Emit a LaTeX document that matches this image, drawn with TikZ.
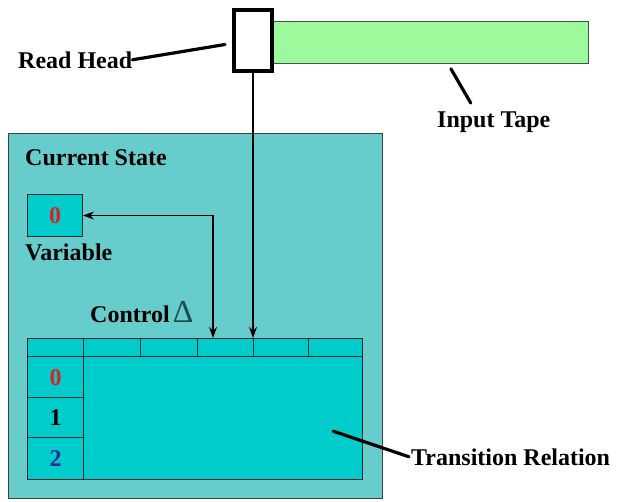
\documentclass[tikz,border=0pt]{standalone}
\usepackage{fontspec}
\setmainfont{Liberation Serif}
\usetikzlibrary{arrows.meta, positioning}
\definecolor{StateTeal}{HTML}{66CCCC}
\definecolor{CellCyan}{HTML}{00CCCC}
\definecolor{TapeGreen}{HTML}{9CFA9C}
\definecolor{ZeroRed}{HTML}{E02020}
\definecolor{TwoBlue}{HTML}{2B2B99}
\definecolor{DeltaTeal}{HTML}{1E4D4D}

\begin{document}
\begin{tikzpicture}[
  x=1pt, y=-1pt,
  font=\fontsize{24}{28}\selectfont\bfseries,
  label/.style={inner sep=0pt, text=black, anchor=base west},
  statebox/.style={draw=black!75, fill=StateTeal, line width=1pt,
                   inner sep=0pt, anchor=north west},
  cell/.style={draw=black!85, fill=CellCyan, line width=1.4pt,
               inner sep=0pt, anchor=north west},
  tape/.style={draw=black!70, fill=TapeGreen, line width=0.8pt,
               inner sep=0pt, anchor=north west},
  headbox/.style={draw=black, fill=white, line width=4pt, inner sep=0pt,
                  minimum width=38pt, minimum height=61pt},
  pointer/.style={line width=3.2pt, line cap=round},
  arr/.style={-{Stealth[length=11pt, width=8pt]}, line width=1.6pt},
  biarr/.style={{Stealth[length=11pt, width=8pt]}-{Stealth[length=11pt, width=8pt]}, line width=1.6pt},
]
\useasboundingbox (0,0) rectangle (632,501);

\node[statebox, minimum width=374pt, minimum height=365pt] (state) at (8,133) {};
\node[tape, minimum width=315pt, minimum height=42pt] (tape) at (273,21) {};
\node[headbox] (head) at (253,40.5) {};

\node[label] (rhlbl) at (18,68)  {Read Head};
\node[label] (tplbl) at (437,127) {Input Tape};
\node[label] (cstate) at (25,165) {Current State};
\node[cell, minimum width=55pt, minimum height=42pt, line width=1pt, text=ZeroRed] (var) at (27,194) {0};
\node[label] (varlbl) at (25,260) {Variable};
\node[label] (ctrl) at (90,322) {Control\kern3pt\textcolor{DeltaTeal}{\fontsize{32}{32}\selectfont\mdseries Δ}};

% transition table
\foreach \xa/\xb [count=\i] in {27/83, 83/140, 140/197, 197/253, 253/308, 308/362}
  \node[cell, minimum width=(\xb-\xa)*1pt, minimum height=18pt] (h\i) at (\xa,338) {};
\foreach \ya/\yb/\num/\col [count=\i from 0] in {356/397/0/ZeroRed, 397/437/1/black, 437/479/2/TwoBlue}
  \node[cell, minimum width=56pt, minimum height=(\yb-\ya)*1pt, text=\col] (r\i) at (27,\ya) {\num};
\node[cell, minimum width=279pt, minimum height=123pt] (rel) at (83,356) {};
\node[label] (trlbl) at (411,465) {Transition Relation};

\draw[arr] (head.south) -- (h5.north west);
\draw[biarr] (var.east) -| ([xshift=16pt]h4.north west);

\draw[pointer] (rhlbl.east) -- ([xshift=-7pt, yshift=-4pt]head.west);
\draw[pointer] ([xshift=20pt, yshift=-5pt]tape.south) -- ([xshift=-23pt, yshift=8pt]tplbl.north);
\draw[pointer] ([xshift=110pt, yshift=-13pt]rel.center) -- ([xshift=-2pt]trlbl.west);
\end{tikzpicture}
\end{document}
